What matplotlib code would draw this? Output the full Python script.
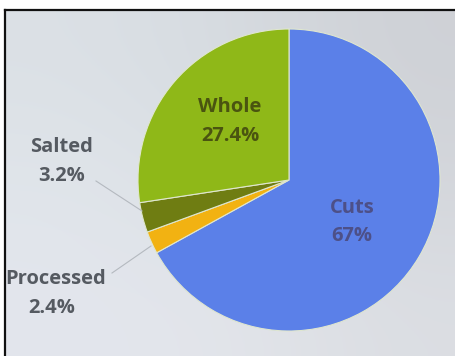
import numpy as np
import matplotlib
matplotlib.use("Agg")
import matplotlib.pyplot as plt

# Share of product types
categories = ["Cuts", "Processed", "Salted", "Whole"]
shares = [67.0, 2.4, 3.2, 27.4]
pct_labels = ["67%", "2.4%", "3.2%", "27.4%"]
colors = ["#5b80e8", "#f2b212", "#6f7d12", "#8fb818"]

plt.rcParams["font.family"] = ["Open Sans", "DejaVu Sans"]

W, H = 456, 356
fig = plt.figure(figsize=(W / 100, H / 100), dpi=100)
fig.patch.set_facecolor("white")
ax = fig.add_axes([0, 0, 1, 1])

# slide background with a soft light gradient
grad = np.array([
    [[0.86, 0.88, 0.90], [0.84, 0.86, 0.88], [0.81, 0.82, 0.84]],
    [[0.88, 0.90, 0.92], [0.86, 0.88, 0.90], [0.83, 0.84, 0.86]],
    [[0.89, 0.90, 0.93], [0.89, 0.90, 0.92], [0.86, 0.87, 0.89]],
])
ax.imshow(grad, extent=(5, W + 2, -2, H - 10), interpolation="bicubic",
          aspect="auto", zorder=0)

cx, cy, r = 289, H - 180, 151
wedges, _ = ax.pie(shares, colors=colors, startangle=90, counterclock=False,
                   center=(cx, cy), radius=r,
                   wedgeprops=dict(edgecolor="#dfe6cf", linewidth=0.8))
for w in wedges:
    w.set_zorder(2)

ax.set_xlim(0, W)
ax.set_ylim(0, H)
ax.set_aspect("auto")
ax.set_axis_off()

# slide frame
ax.plot([5, W + 2], [H - 10, H - 10], color="#111111", lw=1.6, zorder=5)
ax.plot([5, 5], [-2, H - 10], color="#111111", lw=1.6, zorder=5)

fs = 14.5
inside = {
    "Whole": ((230, H - 107), (230, H - 136), "#4a5410"),
    "Cuts": ((352, H - 208), (352, H - 236), "#4d5088"),
}
outside = {
    "Salted": ((62, H - 147), (62, H - 176)),
    "Processed": ((56, H - 279), (52, H - 308)),
}
for name, pct in zip(categories, pct_labels):
    if name in inside:
        p1, p2, c = inside[name]
    else:
        p1, p2 = outside[name]
        c = "#555a61"
    ax.text(*p1, name, ha="center", va="center", fontsize=fs,
            fontweight="bold", color=c, zorder=4)
    ax.text(*p2, pct, ha="center", va="center", fontsize=fs,
            fontweight="bold", color=c, zorder=4)

# leader lines for the small slices
ax.plot([96, 142], [H - 181, H - 211], color="#b4b9bf", lw=0.8, zorder=3)
ax.plot([112, 151], [H - 273, H - 246], color="#b4b9bf", lw=0.8, zorder=3)

fig.savefig("out.png", dpi=100)
